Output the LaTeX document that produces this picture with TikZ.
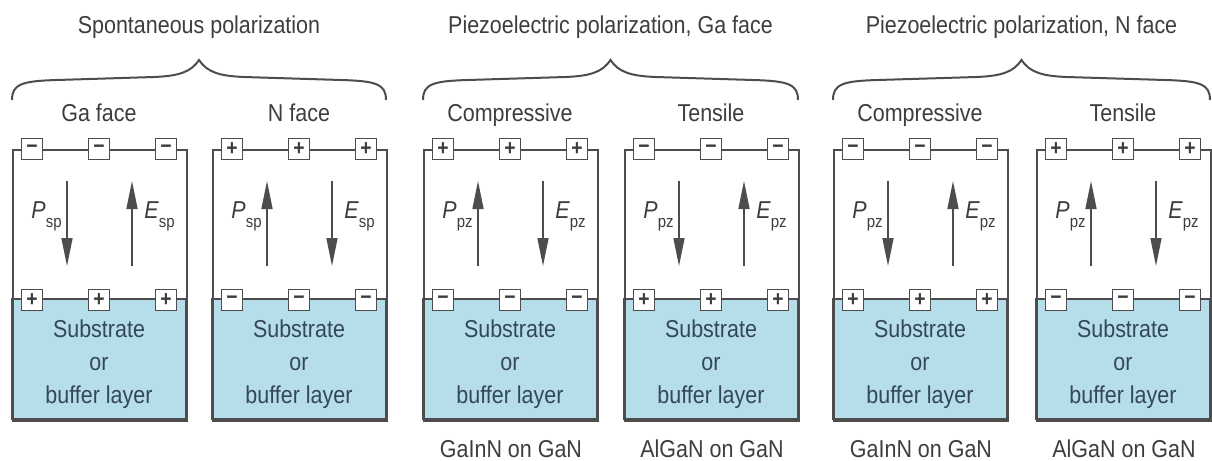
\documentclass[tikz,border=0pt]{standalone}
\usepackage{fontspec}
\setmainfont{Liberation Sans}[FakeStretch=0.88]
\usetikzlibrary{arrows.meta,positioning}
\definecolor{PZLine}{HTML}{4D4D4D}
\definecolor{PZText}{HTML}{3D3D3D}
\definecolor{PZSub}{HTML}{B5DDEA}
\definecolor{PZSubText}{HTML}{34475A}
\newcommand\pzsub[1]{\raisebox{-4.5pt}{\fontsize{8.5}{8.5}\selectfont#1}}

\begin{document}
\begin{tikzpicture}[x=0.5pt,y=-0.5pt,
  panel/.style={draw=PZLine,line width=1pt,minimum width=87pt,minimum height=135.5pt,inner sep=0pt,anchor=north west},
  substrate/.style={draw=PZLine,line width=1pt,fill=PZSub,minimum width=87pt,minimum height=60pt,inner sep=0pt,anchor=south},
  charge/.style={draw=PZLine,fill=white,line width=0.7pt,minimum size=10.5pt,inner sep=0pt,font=\fontsize{11}{11}\selectfont\bfseries,text=PZText},
  pol/.style={draw=PZLine,line width=0.75pt,-{Triangle[length=14pt,width=5.5pt]}},
  curly/.style={draw=PZLine,line width=1pt},
  txt/.style={font=\fontsize{12.2}{14}\selectfont,text=PZText,inner sep=0pt},
  subtxt/.style={font=\fontsize{12.2}{16.5}\selectfont,text=PZSubText,inner sep=0pt,align=center}
]
\useasboundingbox (0,0) rectangle (1212,461);

% six layer panels
\foreach \i/\l/\tp/\bt/\ps/\pe/\s/\hd in {
  1/12/−/+/181/266/sp/{Ga face},
  2/212/+/−/266/181/sp/{N face},
  3/423/+/−/266/181/pz/Compressive,
  4/624/−/+/181/266/pz/Tensile,
  5/833/−/+/181/266/pz/Compressive,
  6/1036/+/−/266/181/pz/Tensile}{
  \node[substrate] (s\i) at (\l+87,420) {};
  \node[panel] (p\i) at (\l,149) {};
  \node[subtxt] (st\i) at (\l+87,364) {Substrate\\or\\buffer layer};
  \foreach \dx in {20,87,154}{
    \node[charge] (ct\i-\dx) at (\l+\dx,149) {\tp};
    \node[charge] (cb\i-\dx) at (\l+\dx,300) {\bt};
  }
  \coordinate (pa\i) at (\l+55,\ps);
  \coordinate (pb\i) at (\l+55,\pe);
  \coordinate (ea\i) at (\l+120,\pe);
  \coordinate (eb\i) at (\l+120,\ps);
  \draw[pol] (pa\i) -- (pb\i);
  \draw[pol] (ea\i) -- (eb\i);
  \node[txt,anchor=base east] (lp\i) at (\l+50,218) {\textit{P}\pzsub{\s}};
  \node[txt,anchor=base west] (le\i) at (\l+132,218) {\textit{E}\pzsub{\s}};
  \node[txt,anchor=base] (h\i) at (\l+87,121) {\hd};
}

% group braces and titles
\foreach \j/\l/\r/\t in {
  1/12/386/{Spontaneous polarization},
  2/423/798/{Piezoelectric polarization, Ga face},
  3/833/1210/{Piezoelectric polarization, N face}}{
  \pgfmathsetmacro\m{(\l+\r)/2}
  \draw[curly] (\l,100) .. controls (\l,84) and (\l+10,81) .. (\l+45,80)
    -- (\m-45,77) .. controls (\m-20,76) and (\m-8,72) .. (\m,60)
    .. controls (\m+8,72) and (\m+20,76) .. (\m+45,77)
    -- (\r-45,80) .. controls (\r-10,81) and (\r,84) .. (\r,100);
  \node[txt,anchor=base] (t\j) at (\m,33) {\t};
}

% material labels
\foreach \i/\t in {3/{GaInN on GaN},4/{AlGaN on GaN},5/{GaInN on GaN},6/{AlGaN on GaN}}
  \node[txt,anchor=base] (b\i) at ([yshift=-17.5pt]p\i.south) {\t};
\end{tikzpicture}
\end{document}
